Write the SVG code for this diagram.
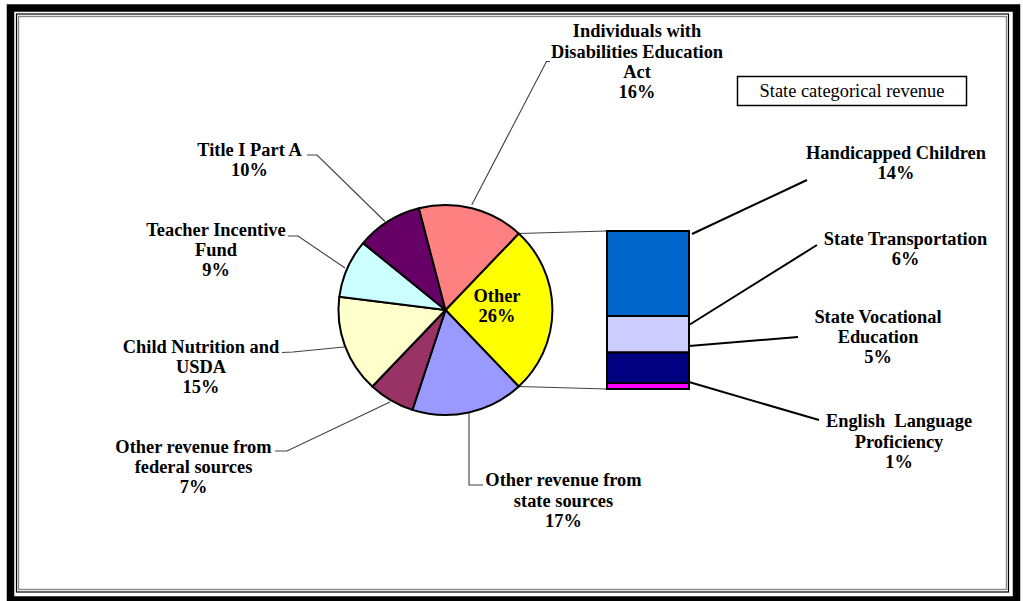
<svg xmlns="http://www.w3.org/2000/svg" width="1023" height="601" viewBox="0 0 1023 601">
<style>
.lbl{font-family:"Liberation Serif","Times New Roman",serif;font-weight:bold;font-size:18.4px;text-anchor:middle;fill:#000}
.reg{font-family:"Liberation Serif","Times New Roman",serif;font-size:18.4px;text-anchor:middle;fill:#000}
.slice{stroke:#000;stroke-width:2;stroke-linejoin:round}
.lead{fill:none;stroke:#404040;stroke-width:1.1}
.blead{fill:none;stroke:#000;stroke-width:2}
.seg{stroke:#000;stroke-width:2}
</style>
<rect x="0" y="0" width="1023" height="601" fill="#fff"/>
<g id="frame" fill="none">
<rect x="10.5" y="8" width="1006" height="592" stroke="#000" stroke-width="7.5"/>
<rect x="16.5" y="14" width="992" height="578" stroke="#000" stroke-width="1.2"/>
<rect x="18.5" y="16.5" width="988" height="573" stroke="#888" stroke-width="1.4"/>
</g>
<g id="connectors">
<polyline class="lead" points="471.7,205 546.5,61.5 550,61.5"/>
<polyline class="lead" points="385,221.5 317,155 307,155"/>
<polyline class="lead" points="345,268 298,236 288,236"/>
<polyline class="lead" points="344,347 293,352 282,352.5"/>
<polyline class="lead" points="390,402 287,451 275,451"/>
<polyline class="lead" points="469,412 469,485 483,485"/>
<line class="lead" x1="518.7" y1="233.5" x2="607" y2="231"/>
<line class="lead" x1="518.7" y1="386.5" x2="607" y2="389"/>
<line class="blead" x1="692" y1="234" x2="807" y2="180"/>
<line class="blead" x1="689" y1="325" x2="817" y2="245"/>
<line class="blead" x1="689" y1="346" x2="798" y2="337"/>
<line class="blead" x1="689" y1="382" x2="819" y2="420"/>
</g>
<g id="pie">
<path id="slice-other" class="slice" fill="#FFFF00" d="M445.5,310 L518.7,233.5 A107,105 0 0 1 518.7,386.5 Z"/>
<path id="slice-state" class="slice" fill="#9999FF" d="M445.5,310 L518.7,386.5 A107,105 0 0 1 412.4,409.9 Z"/>
<path id="slice-federal" class="slice" fill="#993366" d="M445.5,310 L412.4,409.9 A107,105 0 0 1 372.3,386.5 Z"/>
<path id="slice-child" class="slice" fill="#FFFFCC" d="M445.5,310 L372.3,386.5 A107,105 0 0 1 339.3,296.8 Z"/>
<path id="slice-teacher" class="slice" fill="#CCFFFF" d="M445.5,310 L339.3,296.8 A107,105 0 0 1 363.1,243.1 Z"/>
<path id="slice-title" class="slice" fill="#660066" d="M445.5,310 L363.1,243.1 A107,105 0 0 1 418.9,208.3 Z"/>
<path id="slice-idea" class="slice" fill="#FF8080" d="M445.5,310 L418.9,208.3 A107,105 0 0 1 518.7,233.5 Z"/>
<text class="lbl" x="497" y="301.7">Other</text>
<text class="lbl" x="497" y="321.7">26%</text>
</g>
<g id="bar">
<rect class="seg" x="607" y="231" width="82" height="85" fill="#0066CC"/>
<rect class="seg" x="607" y="316" width="82" height="36.5" fill="#CCCCFF"/>
<rect class="seg" x="607" y="352.5" width="82" height="30.5" fill="#000080"/>
<rect class="seg" x="607" y="383" width="82" height="6" fill="#FF00FF"/>
</g>
<g id="legend">
<rect x="737.5" y="76.5" width="229" height="29" fill="#fff" stroke="#000" stroke-width="1.5"/>
<text class="reg" x="852" y="97">State categorical revenue</text>
</g>
<g id="label-idea">
<text class="lbl" x="637" y="37.3">Individuals with</text>
<text class="lbl" x="637" y="57.6">Disabilities Education</text>
<text class="lbl" x="637" y="77.9">Act</text>
<text class="lbl" x="637" y="98.2">16%</text>
</g>
<g id="label-title">
<text class="lbl" x="249.5" y="156">Title I Part A</text>
<text class="lbl" x="249.5" y="176">10%</text>
</g>
<g id="label-teacher">
<text class="lbl" x="216" y="236">Teacher Incentive</text>
<text class="lbl" x="216" y="256">Fund</text>
<text class="lbl" x="216" y="276">9%</text>
</g>
<g id="label-child">
<text class="lbl" x="201" y="353.3">Child Nutrition and</text>
<text class="lbl" x="201" y="373.3">USDA</text>
<text class="lbl" x="201" y="393.3">15%</text>
</g>
<g id="label-federal">
<text class="lbl" x="193.5" y="452.7">Other revenue from</text>
<text class="lbl" x="193.5" y="472.7">federal sources</text>
<text class="lbl" x="193.5" y="492.7">7%</text>
</g>
<g id="label-state">
<text class="lbl" x="563.5" y="486">Other revenue from</text>
<text class="lbl" x="563.5" y="506.5">state sources</text>
<text class="lbl" x="563.5" y="526.7">17%</text>
</g>
<g id="label-handicapped">
<text class="lbl" x="896" y="159">Handicapped Children</text>
<text class="lbl" x="896" y="179">14%</text>
</g>
<g id="label-transport">
<text class="lbl" x="905.5" y="245">State Transportation</text>
<text class="lbl" x="905.5" y="265">6%</text>
</g>
<g id="label-vocational">
<text class="lbl" x="878" y="323">State Vocational</text>
<text class="lbl" x="878" y="343">Education</text>
<text class="lbl" x="878" y="363">5%</text>
</g>
<g id="label-elp">
<text class="lbl" x="899" y="427" style="white-space:pre">English  Language</text>
<text class="lbl" x="899" y="447.5">Proficiency</text>
<text class="lbl" x="899" y="468">1%</text>
</g>
</svg>
